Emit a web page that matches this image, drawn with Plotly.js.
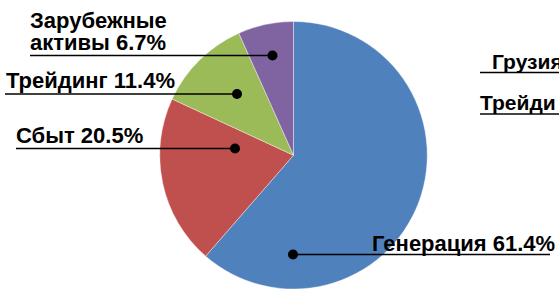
<!DOCTYPE html>
<html>
<head>
<meta charset="utf-8">
<script src="https://cdn.plot.ly/plotly-3.0.1.min.js"></script>
<style>
  html, body { margin: 0; padding: 0; background: #fff; }
  #chart { width: 559px; height: 289px; }
</style>
</head>
<body>
<div id="chart"></div>
<script>
// ---- data ----
const categories = ['Генерация', 'Сбыт', 'Трейдинг', 'Зарубежные активы'];
const shares = [61.4, 20.5, 11.4, 6.7];
const sliceColors = ['#4F81BD', '#C0504D', '#9BBB59', '#8064A2'];
// cut-off labels of a neighbouring chart on the right edge
const sideLabels = ['Грузия', 'Трейди'];

// ---- layout helpers (pixel -> paper) ----
const W = 559, H = 289;
const px = x => x / W;
const py = y => 1 - y / H;
const FONT = 'Liberation Sans, Arial, sans-serif';
const FS = 22;

// label placement (layout only)
const labelLayout = {
  'Генерация':         {tx: 556, base: 251.7, anchor: 'right', lx0: 293, lx1: 550, ly: 254.5, dx: 293, dy: 254.5},
  'Сбыт':              {tx: 15,  base: 143.0, anchor: 'left',  lx0: 16,  lx1: 235, ly: 148.5, dx: 235, dy: 148.5},
  'Трейдинг':          {tx: 5,   base: 88.3,  anchor: 'left',  lx0: 5,   lx1: 237, ly: 94,    dx: 237, dy: 94},
  'Зарубежные активы': {tx: 29,  base: 50.0,  anchor: 'left',  lx0: 30,  lx1: 272.5, ly: 55.5, dx: 272.5, dy: 55.5, firstBase: 28.3}
};

const annotations = [];
const shapes = [];
const centerFromBase = (b, fs) => b - 0.35 * fs;

categories.forEach((cat, i) => {
  const L = labelLayout[cat];
  const full = cat + ' ' + shares[i].toFixed(1) + '%';
  const lines = [];
  if (L.firstBase !== undefined) {
    const sp = full.indexOf(' ');
    lines.push([full.slice(0, sp), L.firstBase]);
    lines.push([full.slice(sp + 1), L.base]);
  } else {
    lines.push([full, L.base]);
  }
  lines.forEach(([t, b]) => {
    annotations.push({
      text: '<b>' + t + '</b>', xref: 'paper', yref: 'paper',
      x: px(L.tx), y: py(centerFromBase(b, FS)), xanchor: L.anchor, yanchor: 'middle',
      showarrow: false, borderpad: 0,
      font: {family: FONT, size: FS, color: '#000'}
    });
  });
  shapes.push({type: 'line', xref: 'paper', yref: 'paper',
    x0: px(L.lx0), x1: px(L.lx1), y0: py(L.ly), y1: py(L.ly),
    line: {color: '#000', width: 1.5}});
  const r = 5;
  shapes.push({type: 'circle', xref: 'paper', yref: 'paper',
    x0: px(L.dx - r), x1: px(L.dx + r), y0: py(L.dy - r), y1: py(L.dy + r),
    fillcolor: '#000', line: {color: '#000', width: 0}});
});

// right-edge cut-off labels
const sideLayout = [
  {tx: 491, base: 69.3, ly: 72.5, color: '#000', w: 1.5},
  {tx: 479, base: 110,  ly: 114,  color: '#444', w: 2}
];
sideLabels.forEach((t, i) => {
  const L = sideLayout[i];
  annotations.push({
    text: '<b>' + t + '</b>', xref: 'paper', yref: 'paper',
    x: px(L.tx), y: py(centerFromBase(L.base, 21)), xanchor: 'left', yanchor: 'middle',
    showarrow: false, borderpad: 0,
    font: {family: FONT, size: 21, color: '#000'}
  });
  shapes.push({type: 'line', xref: 'paper', yref: 'paper',
    x0: px(480), x1: px(560), y0: py(L.ly), y1: py(L.ly),
    line: {color: L.color, width: L.w}});
});

const trace = {
  type: 'pie',
  labels: categories,
  values: shares,
  sort: false,
  direction: 'clockwise',
  rotation: 0,
  textinfo: 'none',
  hoverinfo: 'none',
  marker: {colors: sliceColors, line: {color: '#ffffff', width: 0.4}},
  domain: {x: [px(159.5), px(427.5)], y: [0, py(21.5)]},
  showlegend: false
};

Plotly.newPlot('chart', [trace], {
  width: W, height: H,
  margin: {l: 0, r: 0, t: 0, b: 0},
  paper_bgcolor: '#fff',
  showlegend: false,
  annotations: annotations,
  shapes: shapes
}, {displayModeBar: false, staticPlot: true});
</script>
</body>
</html>
